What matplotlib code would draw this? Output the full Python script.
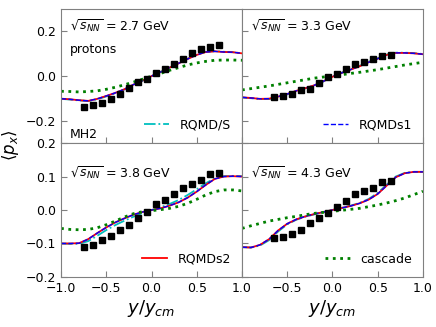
"""Directed flow <p_x> vs scaled rapidity for protons at four beam energies."""

import matplotlib

matplotlib.use("Agg")
import matplotlib.pyplot as plt

energies = ["2.7", "3.3", "3.8", "4.3"]

# scaled rapidity grid of the model curves
y_model = [-1.0, -0.9, -0.8, -0.7, -0.6, -0.5, -0.4, -0.3, -0.2, -0.1, 0.0,
           0.1, 0.2, 0.3, 0.4, 0.5, 0.6, 0.7, 0.8, 0.9, 1.0]

# RQMDs2 (red) and RQMDs1 (blue) lie on top of each other
rqmd_s2 = [
    [-0.101, -0.104, -0.108, -0.111, -0.102, -0.089, -0.075, -0.059, -0.038, -0.020, 0.000,
     0.018, 0.038, 0.057, 0.077, 0.095, 0.108, 0.111, 0.108, 0.107, 0.102],
    [-0.095, -0.098, -0.102, -0.101, -0.092, -0.080, -0.066, -0.054, -0.041, -0.023, -0.003,
     0.014, 0.029, 0.044, 0.062, 0.078, 0.095, 0.104, 0.104, 0.102, 0.098],
    [-0.100, -0.100, -0.099, -0.087, -0.069, -0.052, -0.037, -0.025, -0.014, -0.006, 0.000,
     0.005, 0.013, 0.023, 0.037, 0.055, 0.075, 0.093, 0.100, 0.101, 0.100],
    [-0.111, -0.112, -0.104, -0.087, -0.061, -0.041, -0.028, -0.019, -0.012, -0.006, 0.000,
     0.006, 0.012, 0.020, 0.031, 0.048, 0.073, 0.098, 0.110, 0.114, 0.114],
]
rqmd_s1 = [
    [-0.101, -0.104, -0.108, -0.111, -0.102, -0.089, -0.075, -0.059, -0.038, -0.020, 0.000,
     0.018, 0.038, 0.057, 0.077, 0.095, 0.108, 0.111, 0.108, 0.107, 0.102],
    [-0.095, -0.098, -0.102, -0.101, -0.092, -0.080, -0.066, -0.054, -0.041, -0.023, -0.003,
     0.014, 0.029, 0.044, 0.062, 0.078, 0.095, 0.104, 0.104, 0.102, 0.098],
    [-0.100, -0.100, -0.099, -0.087, -0.069, -0.052, -0.037, -0.025, -0.014, -0.006, 0.000,
     0.005, 0.013, 0.023, 0.037, 0.055, 0.075, 0.093, 0.100, 0.101, 0.100],
    [-0.111, -0.112, -0.104, -0.087, -0.061, -0.041, -0.028, -0.019, -0.012, -0.006, 0.000,
     0.006, 0.012, 0.020, 0.031, 0.048, 0.073, 0.098, 0.110, 0.114, 0.114],
]
rqmd_s = [
    [-0.102, -0.105, -0.109, -0.112, -0.104, -0.091, -0.077, -0.060, -0.040, -0.021, 0.000,
     0.019, 0.039, 0.058, 0.078, 0.096, 0.109, 0.112, 0.109, 0.107, 0.102],
    [-0.096, -0.099, -0.103, -0.103, -0.094, -0.082, -0.068, -0.055, -0.042, -0.024, -0.003,
     0.015, 0.030, 0.046, 0.064, 0.080, 0.097, 0.105, 0.105, 0.103, 0.099],
    [-0.100, -0.101, -0.101, -0.093, -0.077, -0.060, -0.045, -0.032, -0.020, -0.009, 0.000,
     0.008, 0.018, 0.030, 0.045, 0.062, 0.080, 0.095, 0.101, 0.102, 0.101],
    [-0.111, -0.112, -0.106, -0.090, -0.064, -0.043, -0.029, -0.020, -0.013, -0.006, 0.000,
     0.006, 0.013, 0.021, 0.033, 0.051, 0.076, 0.100, 0.111, 0.114, 0.114],
]
cascade = [
    [-0.068, -0.069, -0.071, -0.069, -0.066, -0.059, -0.050, -0.039, -0.027, -0.014, 0.000,
     0.012, 0.026, 0.038, 0.050, 0.059, 0.066, 0.071, 0.072, 0.072, 0.071],
    [-0.062, -0.056, -0.050, -0.044, -0.037, -0.030, -0.023, -0.016, -0.009, -0.004, 0.001,
     0.006, 0.012, 0.017, 0.023, 0.029, 0.036, 0.043, 0.050, 0.056, 0.062],
    [-0.055, -0.058, -0.059, -0.058, -0.053, -0.044, -0.033, -0.021, -0.011, -0.005, -0.002,
     0.001, 0.005, 0.011, 0.020, 0.032, 0.045, 0.055, 0.060, 0.060, 0.057],
    [-0.055, -0.047, -0.040, -0.033, -0.028, -0.023, -0.019, -0.014, -0.010, -0.007, -0.004,
     -0.001, 0.002, 0.005, 0.010, 0.015, 0.021, 0.028, 0.036, 0.046, 0.056],
]

# measured protons (black squares)
y_data = [
    [-0.75, -0.65, -0.55, -0.45, -0.35, -0.25, -0.15, -0.05, 0.05, 0.15, 0.25, 0.35, 0.45, 0.55, 0.65, 0.75],
    [-0.65, -0.55, -0.45, -0.35, -0.25, -0.15, -0.05, 0.05, 0.15, 0.25, 0.35, 0.45, 0.55, 0.65],
    [-0.75, -0.65, -0.55, -0.45, -0.35, -0.25, -0.15, -0.05, 0.05, 0.15, 0.25, 0.35, 0.45, 0.55, 0.65, 0.75],
    [-0.65, -0.55, -0.45, -0.35, -0.25, -0.15, -0.05, 0.05, 0.15, 0.25, 0.35, 0.45, 0.55, 0.65],
]
px_data = [
    [-0.140, -0.131, -0.119, -0.101, -0.080, -0.053, -0.027, -0.012, 0.014, 0.032, 0.056, 0.078, 0.102, 0.122, 0.132, 0.141],
    [-0.093, -0.090, -0.080, -0.062, -0.056, -0.029, -0.006, 0.009, 0.030, 0.054, 0.063, 0.078, 0.092, 0.095],
    [-0.111, -0.104, -0.090, -0.077, -0.060, -0.046, -0.025, -0.007, 0.017, 0.029, 0.047, 0.065, 0.079, 0.091, 0.107, 0.111],
    [-0.083, -0.081, -0.071, -0.061, -0.040, -0.024, -0.009, 0.010, 0.028, 0.049, 0.057, 0.067, 0.083, 0.086],
]

x_ticks = [-1.0, -0.5, 0.0, 0.5, 1.0]
x_ticklabels_left = ["\u22121.0", "\u22120.5", "0.0", "0.5", "1.0"]
x_ticklabels_right = ["", "\u22120.5", "0.0", "0.5", "1.0"]
top_yticks = [-0.2, 0.0, 0.2]
bottom_yticks = [-0.2, -0.1, 0.0, 0.1, 0.2]
legend_in_panel = ["RQMD/S", "RQMDs1", "RQMDs2", "cascade"]

FS = 9
fig, axes = plt.subplots(2, 2, figsize=(4.36, 3.27), dpi=100, sharey="row")
fig.subplots_adjust(left=0.140, right=0.970, top=0.972, bottom=0.153, hspace=0, wspace=0)

for i, ax in enumerate(axes.flat):
    lines = {}
    lines["RQMD/S"], = ax.plot(y_model, rqmd_s[i], color="c", ls="-.", lw=1.3)
    lines["RQMDs2"], = ax.plot(y_model, rqmd_s2[i], color="r", ls="-", lw=1.3)
    lines["RQMDs1"], = ax.plot(y_model, rqmd_s1[i], color="b", ls="--", lw=1.0)
    lines["cascade"], = ax.plot(y_model, cascade[i], color="green", ls=":", lw=2.0)
    ax.plot(y_data[i], px_data[i], "s", color="black", ms=5, zorder=5)

    name = legend_in_panel[i]
    ax.legend([lines[name]], [name], loc="lower right", frameon=False, fontsize=FS)

    ax.set_xlim(-1.0, 1.0)
    ax.set_xticks(x_ticks)
    ax.tick_params(direction="in", labelsize=FS, color="gray", length=4)
    for spine in ax.spines.values():
        spine.set_color("gray")

    ytxt = 0.867 if i < 2 else 0.774
    ax.text(0.05, ytxt, r"$\sqrt{s_{NN}}$ = " + energies[i] + " GeV",
            transform=ax.transAxes, fontsize=FS, va="center")

for ax in axes[0]:
    ax.tick_params(labelbottom=False)
axes[1, 0].set_xticklabels(x_ticklabels_left)
# the -1.0 label of the lower right panel would sit on top of 1.0
axes[1, 1].set_xticklabels(x_ticklabels_right)

axes[0, 0].set_ylim(-0.3, 0.3)
axes[0, 0].set_yticks(top_yticks)
axes[1, 0].set_ylim(-0.2, 0.2)
axes[1, 0].set_yticks(bottom_yticks)
axes[0, 0].text(0.05, 0.696, "protons", transform=axes[0, 0].transAxes, fontsize=FS, va="center")
axes[0, 0].text(0.05, 0.067, "MH2", transform=axes[0, 0].transAxes, fontsize=FS, va="center")

for ax in axes[1]:
    ax.set_xlabel(r"$y/y_{cm}$", fontsize=13, labelpad=2)
fig.text(0.025, 0.555, r"$\langle p_x \rangle$", rotation=90, fontsize=12, va="center", ha="center")

fig.savefig("out.png", dpi=100)
